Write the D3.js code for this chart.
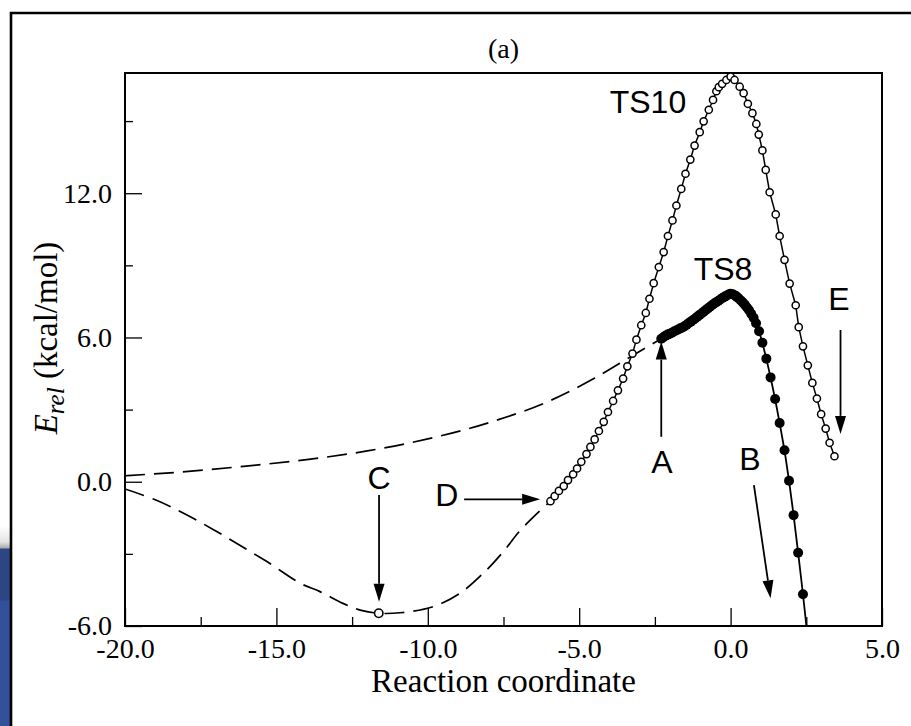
<!DOCTYPE html>
<html>
<head>
<meta charset="utf-8">
<script src="https://cdn.jsdelivr.net/npm/d3@7"></script>
<style>
  html, body { margin: 0; padding: 0; background: #fff; }
  svg { display: block; }
</style>
</head>
<body>
<script>
// ---- Data: energy profiles along the reaction coordinate ----

// TS10 IRC path (open circles), from D up over TS10 and down to E
const ts10X = [-5.95, -5.81, -5.67, -5.51, -5.37, -5.20, -5.07, -4.93, -4.76, -4.63,
  -4.49, -4.35, -4.19, -4.05, -3.88, -3.72, -3.55, -3.41, -3.24, -3.11,
  -2.95, -2.80, -2.68, -2.54, -2.37, -2.21, -2.07, -1.92, -1.79, -1.63,
  -1.49, -1.33, -1.19, -1.02, -0.89, -0.72, -0.58, -0.47, -0.39, -0.28,
  -0.14, 0.00, 0.13, 0.30, 0.43, 0.57, 0.72, 0.85, 0.93, 1.05,
  1.16, 1.29, 1.49, 1.62, 1.78, 1.95, 2.15, 2.25, 2.39, 2.55,
  2.70, 2.85, 2.99, 3.14, 3.27, 3.43];
const ts10E = [-0.81, -0.60, -0.38, -0.18, 0.07, 0.31, 0.55, 0.83, 1.15, 1.45,
  1.76, 2.11, 2.49, 2.90, 3.36, 3.80, 4.29, 4.80, 5.33, 5.91,
  6.51, 7.02, 7.61, 8.26, 8.93, 9.55, 10.22, 10.87, 11.49, 12.18,
  12.81, 13.40, 13.98, 14.54, 14.99, 15.47, 15.88, 16.24, 16.41, 16.55,
  16.71, 16.85, 16.71, 16.43, 16.16, 15.72, 15.33, 14.88, 14.44, 13.78,
  12.97, 12.04, 11.12, 10.22, 9.23, 8.24, 7.34, 6.43, 5.63, 4.84,
  4.11, 3.46, 2.81, 2.21, 1.62, 1.06];

// TS8 IRC path (filled circles), from A over TS8 and down past B
const ts8X = [-2.29, -2.22, -2.15, -2.08, -2.01, -1.94, -1.87, -1.80, -1.73, -1.66,
  -1.59, -1.52, -1.45, -1.38, -1.31, -1.24, -1.17, -1.10, -1.03, -0.96,
  -0.89, -0.82, -0.75, -0.68, -0.61, -0.54, -0.47, -0.40, -0.33, -0.26,
  -0.19, -0.12, -0.05, 0.00, 0.07, 0.14, 0.20, 0.26, 0.33, 0.40,
  0.47, 0.54, 0.61, 0.68, 0.76, 0.84, 0.94, 1.05, 1.18, 1.32,
  1.47, 1.62, 1.78, 1.93, 2.08, 2.23, 2.39, 2.55];
const ts8E = [5.95, 6.01, 6.07, 6.12, 6.16, 6.20, 6.25, 6.29, 6.33, 6.38,
  6.42, 6.47, 6.53, 6.60, 6.66, 6.73, 6.79, 6.86, 6.93, 7.00,
  7.07, 7.14, 7.21, 7.28, 7.35, 7.41, 7.47, 7.53, 7.59, 7.65,
  7.70, 7.75, 7.80, 7.82, 7.80, 7.75, 7.70, 7.63, 7.55, 7.46,
  7.36, 7.25, 7.13, 6.99, 6.82, 6.59, 6.26, 5.78, 5.12, 4.34,
  3.44, 2.44, 1.31, 0.04, -1.39, -2.95, -4.68, -6.55];

// Upper dashed profile, leading into A
const upperX = [-20.0, -18.0, -16.0, -14.0, -12.0, -10.0, -8.0, -6.0, -4.5, -3.3, -2.29];
const upperE = [0.25, 0.42, 0.65, 0.92, 1.28, 1.78, 2.45, 3.35, 4.30, 5.20, 5.95];

// Lower dashed profile through the minimum C, up to D
const lowerX = [-20.0, -19.0, -18.0, -17.0, -16.0, -15.3, -14.2, -13.56, -12.8, -12.2,
  -11.62, -10.92, -9.83, -8.94, -8.06, -7.5, -7.0, -6.5, -5.95];
const lowerE = [-0.30, -0.75, -1.35, -2.05, -2.80, -3.33, -4.23, -4.57, -5.06, -5.35,
  -5.47, -5.45, -5.20, -4.64, -3.67, -2.90, -2.10, -1.45, -0.81];

// Stationary point C (open marker on the lower profile)
const minC = { x: -11.62, e: -5.47 };

// Axis ticks
const xMajorTicks = [-20, -15, -10, -5, 0, 5];
const xMinorTicks = [-17.5, -12.5, -7.5, -2.5, 2.5];
const yMajorTicks = [-6, 0, 6, 12];
const yMinorTicks = [-3, 3, 9, 15];

// ---- Drawing ----
const W = 911, H = 726;
const plot = { left: 125, right: 882, top: 73, bottom: 626 };

const svg = d3.select("body").append("svg")
  .attr("width", W).attr("height", H)
  .attr("viewBox", `0 0 ${W} ${H}`);

const x = d3.scaleLinear().domain([-20, 5]).range([plot.left, plot.right]);
const y = d3.scaleLinear().domain([-6, 17]).range([plot.bottom, plot.top]);

const serif = "'Liberation Serif', 'Times New Roman', serif";
const sans = "'Liberation Sans', Arial, sans-serif";

// page decorations: blue strip at the lower left and the outer frame
const defs = svg.append("defs");
const grad = defs.append("linearGradient").attr("id", "strip")
  .attr("x1", 0).attr("y1", 0).attr("x2", 0).attr("y2", 1);
[[0, "#ffffff"], [0.08, "#e4e4e4"], [0.11, "#a8a8a8"], [0.115, "#2c4684"],
 [0.37, "#2c4684"], [0.375, "#33509b"], [1, "#33509b"]]
  .forEach(([o, c]) => grad.append("stop").attr("offset", o).attr("stop-color", c));
svg.append("rect").attr("x", 0).attr("y", 526).attr("width", 10).attr("height", 200)
  .attr("fill", "url(#strip)");

svg.append("path")
  .attr("d", `M11,${H} L11,13 L${W},13`)
  .attr("fill", "none").attr("stroke", "#000").attr("stroke-width", 2.6);

defs.append("clipPath").attr("id", "plotClip").append("rect")
  .attr("x", plot.left).attr("y", plot.top)
  .attr("width", plot.right - plot.left).attr("height", plot.bottom - plot.top);

// axes: major ticks with labels, minor ticks without, all pointing inward
const fmt = d => d.toFixed(1);
function styleAxis(g) {
  g.select(".domain").remove();
  g.selectAll(".tick line").attr("stroke", "#000").attr("stroke-width", 1.3);
  g.selectAll(".tick text").attr("fill", "#000")
    .style("font-family", serif).style("font-size", "28px");
}
svg.append("g").attr("transform", `translate(0,${plot.bottom})`)
  .call(d3.axisBottom(x).tickValues(xMajorTicks).tickFormat(fmt)
    .tickSizeInner(-18).tickSizeOuter(0).tickPadding(12))
  .call(styleAxis);
svg.append("g").attr("transform", `translate(0,${plot.bottom})`)
  .call(d3.axisBottom(x).tickValues(xMinorTicks).tickFormat("")
    .tickSizeInner(-9).tickSizeOuter(0))
  .call(styleAxis);
svg.append("g").attr("transform", `translate(${plot.left},0)`)
  .call(d3.axisLeft(y).tickValues(yMajorTicks).tickFormat(fmt)
    .tickSizeInner(-17).tickSizeOuter(0).tickPadding(13))
  .call(styleAxis);
svg.append("g").attr("transform", `translate(${plot.left},0)`)
  .call(d3.axisLeft(y).tickValues(yMinorTicks).tickFormat("")
    .tickSizeInner(-8).tickSizeOuter(0))
  .call(styleAxis);

// plot frame
svg.append("rect")
  .attr("x", plot.left).attr("y", plot.top)
  .attr("width", plot.right - plot.left).attr("height", plot.bottom - plot.top)
  .attr("fill", "none").attr("stroke", "#000").attr("stroke-width", 2);

// axis titles and panel label
svg.append("text").attr("x", (plot.left + plot.right) / 2).attr("y", 692)
  .attr("text-anchor", "middle").style("font-family", serif).style("font-size", "33px")
  .text("Reaction coordinate");

const yl = svg.append("text")
  .attr("transform", `translate(57,338) rotate(-90)`)
  .attr("text-anchor", "middle").style("font-family", serif).style("font-size", "33px");
yl.append("tspan").style("font-style", "italic").text("E");
yl.append("tspan").style("font-style", "italic").style("font-size", "25px")
  .attr("dy", 7).text("rel");
yl.append("tspan").attr("dy", -7).text(" (kcal/mol)");

svg.append("text").attr("x", (plot.left + plot.right) / 2).attr("y", 58)
  .attr("text-anchor", "middle").style("font-family", serif).style("font-size", "28px")
  .text("(a)");

// curves
const zip = (xs, es) => xs.map((v, i) => ({ x: v, e: es[i] }));
const line = d3.line().x(d => x(d.x)).y(d => y(d.e));
const layer = svg.append("g").attr("clip-path", "url(#plotClip)");

layer.append("path").datum(zip(upperX, upperE)).attr("d", line.curve(d3.curveMonotoneX))
  .attr("fill", "none").attr("stroke", "#000").attr("stroke-width", 1.7)
  .attr("stroke-dasharray", "20,9");
layer.append("path").datum(zip(lowerX, lowerE)).attr("d", line.curve(d3.curveCatmullRom))
  .attr("fill", "none").attr("stroke", "#000").attr("stroke-width", 1.7)
  .attr("stroke-dasharray", "20,9");
line.curve(d3.curveLinear);

layer.append("circle").attr("cx", x(minC.x)).attr("cy", y(minC.e)).attr("r", 4.2)
  .attr("fill", "#fff").attr("stroke", "#000").attr("stroke-width", 1.6);

const ts10 = zip(ts10X, ts10E);
layer.append("path").datum(ts10).attr("d", line)
  .attr("fill", "none").attr("stroke", "#000").attr("stroke-width", 1.5);
layer.selectAll("circle.ts10").data(ts10).join("circle").attr("class", "ts10")
  .attr("cx", d => x(d.x)).attr("cy", d => y(d.e)).attr("r", 3.6)
  .attr("fill", "#fff").attr("stroke", "#000").attr("stroke-width", 1.5);

const ts8 = zip(ts8X, ts8E);
layer.append("path").datum(ts8).attr("d", line)
  .attr("fill", "none").attr("stroke", "#000").attr("stroke-width", 1.8);
layer.selectAll("circle.ts8").data(ts8).join("circle").attr("class", "ts8")
  .attr("cx", d => x(d.x)).attr("cy", d => y(d.e)).attr("r", 5)
  .attr("fill", "#000");

// annotations: labels and arrows, placed in data coordinates
const labels = [
  { t: "TS10", x: -2.73, e: 15.34 },
  { t: "TS8", x: -0.25, e: 8.39 },
  { t: "A", x: -2.27, e: 0.36 },
  { t: "B", x: 0.64, e: 0.49 },
  { t: "C", x: -11.61, e: -0.30 },
  { t: "D", x: -9.37, e: -1.01 },
  { t: "E", x: 3.58, e: 7.14 }
];
svg.selectAll("text.lab").data(labels).join("text").attr("class", "lab")
  .attr("x", d => x(d.x)).attr("y", d => y(d.e))
  .attr("text-anchor", "middle").style("font-family", sans).style("font-size", "32px")
  .text(d => d.t);

const arrows = [
  { x0: -2.29, e0: 1.87, x1: -2.29, e1: 5.83 },   // A
  { x0: 0.77, e0: -0.14, x1: 1.32, e1: -4.85 },   // B
  { x0: -11.61, e0: -0.55, x1: -11.61, e1: -4.99 }, // C
  { x0: -8.80, e0: -0.73, x1: -6.29, e1: -0.73 },  // D
  { x0: 3.63, e0: 6.31, x1: 3.63, e1: 1.99 }      // E
];
arrows.forEach(a => {
  const X0 = x(a.x0), Y0 = y(a.e0), X1 = x(a.x1), Y1 = y(a.e1);
  const L = Math.hypot(X1 - X0, Y1 - Y0), ux = (X1 - X0) / L, uy = (Y1 - Y0) / L;
  const hl = 18, hw = 5.5;
  const bx = X1 - ux * hl, by = Y1 - uy * hl;
  svg.append("line").attr("x1", X0).attr("y1", Y0).attr("x2", bx).attr("y2", by)
    .attr("stroke", "#000").attr("stroke-width", 1.8);
  svg.append("path")
    .attr("d", `M${X1},${Y1} L${bx - uy * hw},${by + ux * hw} L${bx + uy * hw},${by - ux * hw} Z`)
    .attr("fill", "#000");
});
</script>
</body>
</html>
